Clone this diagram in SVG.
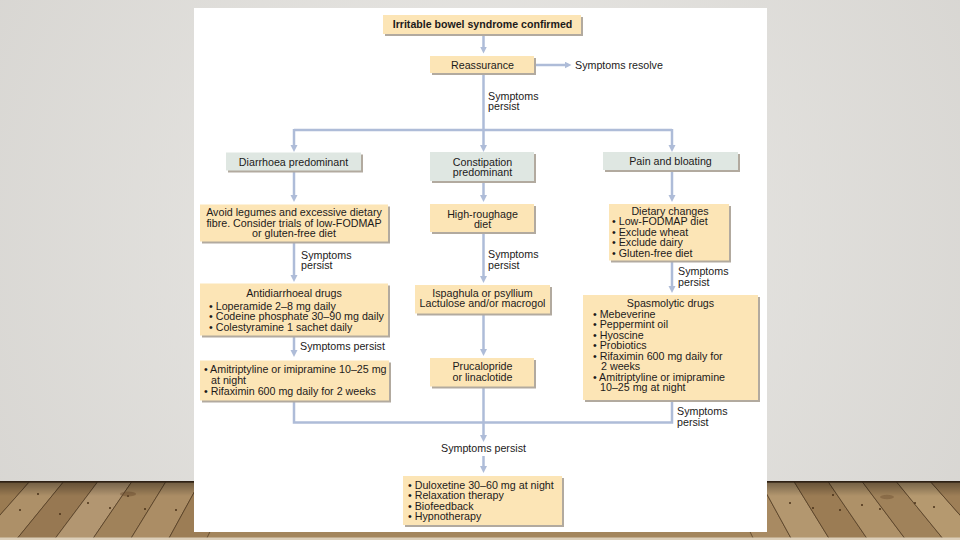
<svg xmlns="http://www.w3.org/2000/svg" width="960" height="540" viewBox="0 0 960 540">
<defs>
  <radialGradient id="wall" cx="480" cy="240" r="640" gradientUnits="userSpaceOnUse">
    <stop offset="0" stop-color="#ebeae7"/>
    <stop offset="1" stop-color="#d5d3cf"/>
  </radialGradient>
  <linearGradient id="floorShade" x1="0" y1="482" x2="0" y2="496" gradientUnits="userSpaceOnUse">
    <stop offset="0" stop-color="#000" stop-opacity="0.35"/>
    <stop offset="1" stop-color="#000" stop-opacity="0"/>
  </linearGradient>
  <marker id="ah" markerUnits="userSpaceOnUse" markerWidth="8" markerHeight="8" refX="2" refY="3.5" orient="auto">
    <path d="M0,0 L7,3.5 L0,7 z" fill="#aebcd8"/>
  </marker>
  <style>
    .t{font-family:"Liberation Sans",Arial,Helvetica,sans-serif;font-size:10.7px;fill:#1c1a1a}
    .c{text-anchor:middle}
    .b{font-weight:bold;font-size:10.6px}
    .box{fill:#fce5b6}
    .gbox{fill:#dfe7e2}
    .sh{fill:#b2aa9f}
    .ln{fill:none;stroke:#aebcd8;stroke-width:2.5}
    .pl{stroke:#4a3520;stroke-width:0.9;stroke-opacity:0.75}
    .nail{fill:#4a3219}
  </style>
</defs>

<g id="background">
  <rect x="0" y="0" width="960" height="540" fill="url(#wall)"/>
  <g id="floor">
    <rect x="0" y="482" width="960" height="58" fill="#a3855c"/>
    <polygon class="pl" points="-4.9,482 29.2,482 -22,540 -60,540" fill="#9a7b52"/>
    <polygon class="pl" points="29.2,482 63.3,482 16,540 -22,540" fill="#ad9068"/>
    <polygon class="pl" points="63.3,482 97.5,482 54,540 16,540" fill="#977852"/>
    <polygon class="pl" points="97.5,482 131.6,482 92,540 54,540" fill="#b29671"/>
    <polygon class="pl" points="131.6,482 165.7,482 130,540 92,540" fill="#a0825a"/>
    <polygon class="pl" points="165.7,482 199.8,482 168,540 130,540" fill="#ab8d65"/>
    <polygon class="pl" points="199.8,482 233.9,482 206,540 168,540" fill="#9c7d55"/>
    <polygon class="pl" points="726.1,482 760.2,482 792,540 754,540" fill="#a88a62"/>
    <polygon class="pl" points="760.2,482 794.3,482 830,540 792,540" fill="#b3976f"/>
    <polygon class="pl" points="794.3,482 828.4,482 868,540 830,540" fill="#9b7c54"/>
    <polygon class="pl" points="828.4,482 862.5,482 906,540 868,540" fill="#ae9168"/>
    <polygon class="pl" points="862.5,482 896.7,482 944,540 906,540" fill="#a0825a"/>
    <polygon class="pl" points="896.7,482 930.8,482 982,540 944,540" fill="#b5996f"/>
    <polygon class="pl" points="930.8,482 964.9,482 1020,540 982,540" fill="#9e7f57"/>
    <g class="nail">
      <circle cx="38" cy="494" r="1"/><circle cx="60" cy="514" r="1"/><circle cx="88" cy="503" r="1"/>
      <circle cx="110" cy="508" r="1"/><circle cx="145" cy="509" r="1"/><circle cx="176" cy="510" r="1"/>
      <circle cx="20" cy="510" r="1"/><circle cx="128" cy="496" r="1"/>
      <circle cx="790" cy="503" r="1"/><circle cx="813" cy="508" r="1"/><circle cx="840" cy="510" r="1"/>
      <circle cx="862" cy="505" r="1"/><circle cx="880" cy="509" r="1"/><circle cx="915" cy="503" r="1"/>
      <circle cx="934" cy="507" r="1"/><circle cx="833" cy="495" r="1"/>
    </g>
    <ellipse cx="128" cy="494" rx="8" ry="2.5" fill="#6a4b2c" opacity="0.45"/>
    <ellipse cx="887" cy="497" rx="7" ry="2.2" fill="#6a4b2c" opacity="0.4"/>
    <rect x="0" y="482" width="960" height="14" fill="url(#floorShade)"/>
    <rect x="0" y="481" width="960" height="1.5" fill="#2e2115"/>
    <rect x="0" y="537.5" width="960" height="2.5" fill="#dccfba"/>
  </g>
  <rect id="panel" x="194" y="8" width="573" height="524" fill="#ffffff"/>
</g>

<g id="connectors">
  <path class="ln" d="M483.5,35 V48.5" marker-end="url(#ah)"/>
  <path class="ln" d="M536,65 H566.5" marker-end="url(#ah)"/>
  <path class="ln" d="M483.5,74 V130"/>
  <path class="ln" d="M294,130 H672"/>
  <path class="ln" d="M294,129 V147" marker-end="url(#ah)"/>
  <path class="ln" d="M483.5,129 V147" marker-end="url(#ah)"/>
  <path class="ln" d="M672,129 V147" marker-end="url(#ah)"/>
  <path class="ln" d="M294,172 V197" marker-end="url(#ah)"/>
  <path class="ln" d="M294,243 V277" marker-end="url(#ah)"/>
  <path class="ln" d="M294,337 V352" marker-end="url(#ah)"/>
  <path class="ln" d="M294,402 V422.5 H672 V402"/>
  <path class="ln" d="M483.5,182 V197" marker-end="url(#ah)"/>
  <path class="ln" d="M483.5,233 V278" marker-end="url(#ah)"/>
  <path class="ln" d="M483.5,315 V351" marker-end="url(#ah)"/>
  <path class="ln" d="M483.5,388 V437" marker-end="url(#ah)"/>
  <path class="ln" d="M483.5,456 V468" marker-end="url(#ah)"/>
  <path class="ln" d="M672,171 V197" marker-end="url(#ah)"/>
  <path class="ln" d="M672,262 V288" marker-end="url(#ah)"/>
  <g id="connector-labels">
    <text class="t" x="575" y="68.5">Symptoms resolve</text>
    <text class="t" x="488" y="99.5">Symptoms</text>
    <text class="t" x="488" y="110">persist</text>
    <text class="t" x="301" y="258.5">Symptoms</text>
    <text class="t" x="301" y="269">persist</text>
    <text class="t" x="300" y="349.5">Symptoms persist</text>
    <text class="t" x="488" y="258">Symptoms</text>
    <text class="t" x="488" y="268.5">persist</text>
    <text class="t" x="678" y="275">Symptoms</text>
    <text class="t" x="678" y="285.5">persist</text>
    <text class="t" x="677" y="415">Symptoms</text>
    <text class="t" x="677" y="425.5">persist</text>
    <text class="t c" x="483.5" y="451.5">Symptoms persist</text>
  </g>
</g>

<g id="n-title">
  <rect class="sh" x="385" y="17" width="198" height="19"/>
  <rect class="box" x="383" y="15" width="198" height="19"/>
  <text class="t b c" x="482.5" y="28">Irritable bowel syndrome confirmed</text>
</g>
<g id="n-reassurance">
  <rect class="sh" x="432" y="58" width="104" height="17"/>
  <rect class="box" x="430" y="56" width="104" height="17"/>
  <text class="t c" x="482.5" y="68.5">Reassurance</text>
</g>
<g id="n-diarrhoea">
  <rect class="sh" x="228" y="154.5" width="135" height="18"/>
  <rect class="gbox" x="226" y="152.5" width="135" height="18"/>
  <text class="t c" x="293.5" y="165.5">Diarrhoea predominant</text>
</g>
<g id="n-constipation">
  <rect class="sh" x="432" y="154" width="104" height="29"/>
  <rect class="gbox" x="430" y="152" width="104" height="29"/>
  <text class="t c" x="482.5" y="165.5">Constipation</text>
  <text class="t c" x="482.5" y="176">predominant</text>
</g>
<g id="n-pain">
  <rect class="sh" x="605" y="154" width="135" height="18"/>
  <rect class="gbox" x="603" y="152" width="135" height="18"/>
  <text class="t c" x="670.5" y="165">Pain and bloating</text>
</g>
<g id="n-avoid">
  <rect class="sh" x="202" y="206.5" width="188" height="37"/>
  <rect class="box" x="200" y="204.5" width="188" height="37"/>
  <text class="t c" x="294" y="216">Avoid legumes and excessive dietary</text>
  <text class="t c" x="294" y="226.5">fibre. Consider trials of low-FODMAP</text>
  <text class="t c" x="294" y="237">or gluten-free diet</text>
</g>
<g id="n-high">
  <rect class="sh" x="432" y="206" width="104" height="28"/>
  <rect class="box" x="430" y="204" width="104" height="28"/>
  <text class="t c" x="482.5" y="217.5">High-roughage</text>
  <text class="t c" x="482.5" y="228">diet</text>
</g>
<g id="n-dietary">
  <rect class="sh" x="611" y="206" width="120" height="56.5"/>
  <rect class="box" x="609" y="204" width="120" height="56.5"/>
  <text class="t c" x="670" y="214.5">Dietary changes</text>
  <text class="t" x="612" y="225">• Low-FODMAP diet</text>
  <text class="t" x="612" y="235.5">• Exclude wheat</text>
  <text class="t" x="612" y="246">• Exclude dairy</text>
  <text class="t" x="612" y="256.5">• Gluten-free diet</text>
</g>
<g id="n-antidiarrhoeal">
  <rect class="sh" x="202" y="285.5" width="188" height="52"/>
  <rect class="box" x="200" y="283.5" width="188" height="52"/>
  <text class="t c" x="294" y="297">Antidiarrhoeal drugs</text>
  <text class="t" x="209" y="309.5">• Loperamide 2–8 mg daily</text>
  <text class="t" x="209" y="320">• Codeine phosphate 30–90 mg daily</text>
  <text class="t" x="209" y="330.5">• Colestyramine 1 sachet daily</text>
</g>
<g id="n-amitriptyline">
  <rect class="sh" x="202" y="362.5" width="189" height="40"/>
  <rect class="box" x="200" y="360.5" width="189" height="40"/>
  <text class="t" x="204" y="373">• Amitriptyline or imipramine 10–25 mg</text>
  <text class="t" x="211" y="383.5">at night</text>
  <text class="t" x="204" y="395">• Rifaximin 600 mg daily for 2 weeks</text>
</g>
<g id="n-ispaghula">
  <rect class="sh" x="417" y="287" width="135" height="28.5"/>
  <rect class="box" x="415" y="285" width="135" height="28.5"/>
  <text class="t c" x="482.5" y="296.5">Ispaghula or psyllium</text>
  <text class="t c" x="482.5" y="307">Lactulose and/or macrogol</text>
</g>
<g id="n-prucalopride">
  <rect class="sh" x="432" y="360" width="104" height="28.5"/>
  <rect class="box" x="430" y="358" width="104" height="28.5"/>
  <text class="t c" x="482.5" y="370">Prucalopride</text>
  <text class="t c" x="482.5" y="380.5">or linaclotide</text>
</g>
<g id="n-spasmolytic">
  <rect class="sh" x="585" y="297" width="175" height="105"/>
  <rect class="box" x="583" y="295" width="175" height="105"/>
  <text class="t c" x="670.5" y="307">Spasmolytic drugs</text>
  <text class="t" x="593" y="317.5">• Mebeverine</text>
  <text class="t" x="593" y="328">• Peppermint oil</text>
  <text class="t" x="593" y="338.5">• Hyoscine</text>
  <text class="t" x="593" y="349">• Probiotics</text>
  <text class="t" x="593" y="359.5">• Rifaximin 600 mg daily for</text>
  <text class="t" x="601" y="370">2 weeks</text>
  <text class="t" x="593" y="380.5">• Amitriptyline or imipramine</text>
  <text class="t" x="600" y="391">10–25 mg at night</text>
</g>
<g id="n-final">
  <rect class="sh" x="405" y="478" width="159" height="49"/>
  <rect class="box" x="403" y="476" width="159" height="49"/>
  <text class="t" x="408" y="488.5">• Duloxetine 30–60 mg at night</text>
  <text class="t" x="408" y="499">• Relaxation therapy</text>
  <text class="t" x="408" y="509.5">• Biofeedback</text>
  <text class="t" x="408" y="520">• Hypnotherapy</text>
</g>
</svg>
